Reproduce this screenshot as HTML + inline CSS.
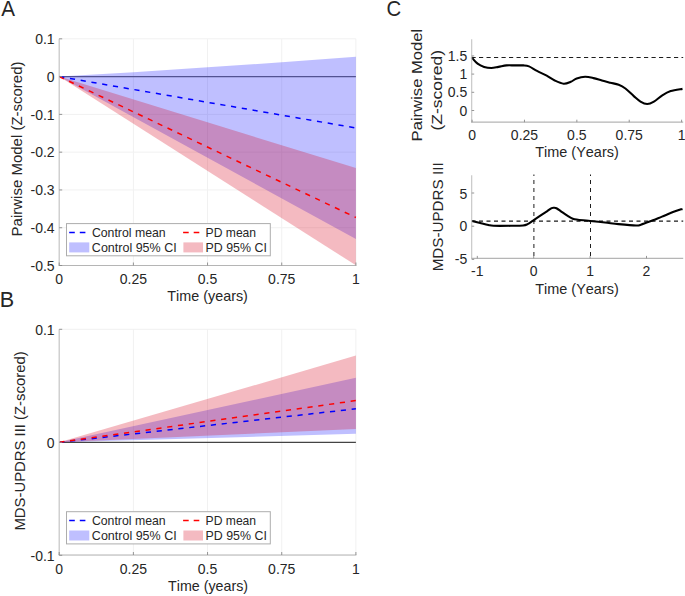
<!DOCTYPE html>
<html><head><meta charset="utf-8"><style>
html,body{margin:0;padding:0;background:#fff;width:685px;height:596px;overflow:hidden}
text{font-family:"Liberation Sans", sans-serif;font-kerning:none}
</style></head><body>
<svg width="685" height="596" viewBox="0 0 685 596" style="display:block">
<rect width="685" height="596" fill="#fff"/>
<line x1="133.38" y1="38.82" x2="133.38" y2="265.50" stroke="#f1f1f1" stroke-width="1.0"/>
<line x1="207.55" y1="38.82" x2="207.55" y2="265.50" stroke="#f1f1f1" stroke-width="1.0"/>
<line x1="281.72" y1="38.82" x2="281.72" y2="265.50" stroke="#f1f1f1" stroke-width="1.0"/>
<line x1="355.90" y1="38.82" x2="355.90" y2="265.50" stroke="#f1f1f1" stroke-width="1.0"/>
<line x1="59.20" y1="38.82" x2="355.90" y2="38.82" stroke="#f1f1f1" stroke-width="1.0"/>
<line x1="59.20" y1="114.38" x2="355.90" y2="114.38" stroke="#f1f1f1" stroke-width="1.0"/>
<line x1="59.20" y1="152.16" x2="355.90" y2="152.16" stroke="#f1f1f1" stroke-width="1.0"/>
<line x1="59.20" y1="189.94" x2="355.90" y2="189.94" stroke="#f1f1f1" stroke-width="1.0"/>
<line x1="59.20" y1="227.72" x2="355.90" y2="227.72" stroke="#f1f1f1" stroke-width="1.0"/>
<line x1="59.20" y1="76.55" x2="355.90" y2="76.55" stroke="#6e6e6e" stroke-width="1.25"/>
<polygon points="59.20,76.60 133.38,72.14 207.55,67.34 281.72,62.24 355.90,56.77 355.90,239.05" fill="#0000ff" fill-opacity="0.25"/>
<polygon points="59.20,76.60 355.90,168.03 355.90,265.31" fill="#d70019" fill-opacity="0.27"/>
<line x1="59.20" y1="76.60" x2="355.90" y2="127.98" stroke="#0000ff" stroke-width="1.5" stroke-dasharray="5.2 5.7"/>
<line x1="59.20" y1="76.60" x2="355.90" y2="217.52" stroke="#ff0000" stroke-width="1.5" stroke-dasharray="5.2 5.7"/>
<line x1="59.20" y1="38.82" x2="59.20" y2="265.50" stroke="#c4c4c4" stroke-width="1.2"/>
<line x1="58.60" y1="265.50" x2="356.40" y2="265.50" stroke="#b5b5b5" stroke-width="1.2"/>
<line x1="59.20" y1="265.50" x2="59.20" y2="262.50" stroke="#8a8a8a" stroke-width="0.9"/>
<line x1="133.38" y1="265.50" x2="133.38" y2="262.50" stroke="#8a8a8a" stroke-width="0.9"/>
<line x1="207.55" y1="265.50" x2="207.55" y2="262.50" stroke="#8a8a8a" stroke-width="0.9"/>
<line x1="281.72" y1="265.50" x2="281.72" y2="262.50" stroke="#8a8a8a" stroke-width="0.9"/>
<line x1="355.90" y1="265.50" x2="355.90" y2="262.50" stroke="#8a8a8a" stroke-width="0.9"/>
<line x1="59.20" y1="38.82" x2="62.20" y2="38.82" stroke="#8a8a8a" stroke-width="0.9"/>
<line x1="59.20" y1="76.60" x2="62.20" y2="76.60" stroke="#8a8a8a" stroke-width="0.9"/>
<line x1="59.20" y1="114.38" x2="62.20" y2="114.38" stroke="#8a8a8a" stroke-width="0.9"/>
<line x1="59.20" y1="152.16" x2="62.20" y2="152.16" stroke="#8a8a8a" stroke-width="0.9"/>
<line x1="59.20" y1="189.94" x2="62.20" y2="189.94" stroke="#8a8a8a" stroke-width="0.9"/>
<line x1="59.20" y1="227.72" x2="62.20" y2="227.72" stroke="#8a8a8a" stroke-width="0.9"/>
<line x1="59.20" y1="265.50" x2="62.20" y2="265.50" stroke="#8a8a8a" stroke-width="0.9"/>
<text x="54.60" y="44.12" font-size="14.0" text-anchor="end" textLength="19.46" lengthAdjust="spacingAndGlyphs" fill="#262626">0.1</text>
<text x="54.60" y="81.90" font-size="14.0" text-anchor="end" textLength="7.79" lengthAdjust="spacingAndGlyphs" fill="#262626">0</text>
<text x="54.60" y="119.68" font-size="14.0" text-anchor="end" textLength="24.12" lengthAdjust="spacingAndGlyphs" fill="#262626">-0.1</text>
<text x="54.60" y="157.46" font-size="14.0" text-anchor="end" textLength="24.12" lengthAdjust="spacingAndGlyphs" fill="#262626">-0.2</text>
<text x="54.60" y="195.24" font-size="14.0" text-anchor="end" textLength="24.12" lengthAdjust="spacingAndGlyphs" fill="#262626">-0.3</text>
<text x="54.60" y="233.02" font-size="14.0" text-anchor="end" textLength="24.12" lengthAdjust="spacingAndGlyphs" fill="#262626">-0.4</text>
<text x="54.60" y="270.80" font-size="14.0" text-anchor="end" textLength="24.12" lengthAdjust="spacingAndGlyphs" fill="#262626">-0.5</text>
<text x="59.20" y="283.60" font-size="14.0" text-anchor="middle" textLength="7.79" lengthAdjust="spacingAndGlyphs" fill="#262626">0</text>
<text x="133.38" y="283.60" font-size="14.0" text-anchor="middle" textLength="27.25" lengthAdjust="spacingAndGlyphs" fill="#262626">0.25</text>
<text x="207.55" y="283.60" font-size="14.0" text-anchor="middle" textLength="19.46" lengthAdjust="spacingAndGlyphs" fill="#262626">0.5</text>
<text x="281.72" y="283.60" font-size="14.0" text-anchor="middle" textLength="27.25" lengthAdjust="spacingAndGlyphs" fill="#262626">0.75</text>
<text x="355.90" y="283.60" font-size="14.0" text-anchor="middle" textLength="7.79" lengthAdjust="spacingAndGlyphs" fill="#262626">1</text>
<text x="167.28" y="300.80" font-size="14.6" textLength="80.61" lengthAdjust="spacingAndGlyphs" fill="#262626">Time (years)</text>
<text transform="translate(21.80 236.43) rotate(-90)" x="0" y="0" font-size="14.6" textLength="174.96" lengthAdjust="spacingAndGlyphs" fill="#262626">Pairwise Model (Z-scored)</text>
<text x="1.36" y="16.40" font-size="21.6" textLength="13.78" lengthAdjust="spacingAndGlyphs" fill="#262626">A</text>
<rect x="66.5" y="223.60" width="203.8" height="32.2" fill="#fff" stroke="#adadad" stroke-width="1"/>
<line x1="69.2" y1="232.40" x2="85.5" y2="232.40" stroke="#0000ff" stroke-width="1.5" stroke-dasharray="5.6 5"/>
<rect x="69.2" y="242.40" width="20.1" height="10.0" fill="#bfbfff"/>
<text x="91.88" y="237.00" font-size="12.4" textLength="73.82" lengthAdjust="spacingAndGlyphs" fill="#262626">Control mean</text>
<text x="91.87" y="251.80" font-size="12.4" textLength="84.79" lengthAdjust="spacingAndGlyphs" fill="#262626">Control 95% CI</text>
<line x1="183.1" y1="232.40" x2="199.4" y2="232.40" stroke="#ff0000" stroke-width="1.5" stroke-dasharray="5.6 5"/>
<rect x="183.4" y="242.40" width="19.6" height="10.0" fill="#f4bac1"/>
<text x="205.61" y="237.00" font-size="12.4" textLength="50.48" lengthAdjust="spacingAndGlyphs" fill="#262626">PD mean</text>
<text x="205.58" y="251.80" font-size="12.4" textLength="61.26" lengthAdjust="spacingAndGlyphs" fill="#262626">PD 95% CI</text>
<line x1="133.38" y1="329.30" x2="133.38" y2="555.00" stroke="#f1f1f1" stroke-width="1.0"/>
<line x1="207.55" y1="329.30" x2="207.55" y2="555.00" stroke="#f1f1f1" stroke-width="1.0"/>
<line x1="281.72" y1="329.30" x2="281.72" y2="555.00" stroke="#f1f1f1" stroke-width="1.0"/>
<line x1="355.90" y1="329.30" x2="355.90" y2="555.00" stroke="#f1f1f1" stroke-width="1.0"/>
<line x1="59.20" y1="329.30" x2="355.90" y2="329.30" stroke="#f1f1f1" stroke-width="1.0"/>
<line x1="59.20" y1="555.30" x2="355.90" y2="555.30" stroke="#f1f1f1" stroke-width="1.0"/>
<line x1="59.20" y1="442.4" x2="355.90" y2="442.4" stroke="#444" stroke-width="1.2"/>
<polygon points="59.20,442.30 355.90,377.70 355.90,433.80" fill="#0000ff" fill-opacity="0.25"/>
<polygon points="59.20,442.30 355.90,355.60 355.90,428.90" fill="#d70019" fill-opacity="0.27"/>
<line x1="59.20" y1="442.30" x2="355.90" y2="408.8" stroke="#0000ff" stroke-width="1.5" stroke-dasharray="5.2 5.7"/>
<line x1="59.20" y1="442.30" x2="355.90" y2="400.6" stroke="#ff0000" stroke-width="1.5" stroke-dasharray="5.2 5.7"/>
<line x1="59.20" y1="329.30" x2="59.20" y2="555.00" stroke="#c4c4c4" stroke-width="1.2"/>
<line x1="58.60" y1="555.00" x2="356.40" y2="555.00" stroke="#b5b5b5" stroke-width="1.2"/>
<line x1="59.20" y1="555.00" x2="59.20" y2="552.00" stroke="#8a8a8a" stroke-width="0.9"/>
<line x1="133.38" y1="555.00" x2="133.38" y2="552.00" stroke="#8a8a8a" stroke-width="0.9"/>
<line x1="207.55" y1="555.00" x2="207.55" y2="552.00" stroke="#8a8a8a" stroke-width="0.9"/>
<line x1="281.72" y1="555.00" x2="281.72" y2="552.00" stroke="#8a8a8a" stroke-width="0.9"/>
<line x1="355.90" y1="555.00" x2="355.90" y2="552.00" stroke="#8a8a8a" stroke-width="0.9"/>
<line x1="59.20" y1="329.30" x2="62.20" y2="329.30" stroke="#8a8a8a" stroke-width="0.9"/>
<line x1="59.20" y1="442.30" x2="62.20" y2="442.30" stroke="#8a8a8a" stroke-width="0.9"/>
<line x1="59.20" y1="555.30" x2="62.20" y2="555.30" stroke="#8a8a8a" stroke-width="0.9"/>
<text x="54.60" y="334.60" font-size="14.0" text-anchor="end" textLength="19.46" lengthAdjust="spacingAndGlyphs" fill="#262626">0.1</text>
<text x="54.60" y="447.60" font-size="14.0" text-anchor="end" textLength="7.79" lengthAdjust="spacingAndGlyphs" fill="#262626">0</text>
<text x="54.60" y="560.60" font-size="14.0" text-anchor="end" textLength="24.12" lengthAdjust="spacingAndGlyphs" fill="#262626">-0.1</text>
<text x="59.20" y="573.80" font-size="14.0" text-anchor="middle" textLength="7.79" lengthAdjust="spacingAndGlyphs" fill="#262626">0</text>
<text x="133.38" y="573.80" font-size="14.0" text-anchor="middle" textLength="27.25" lengthAdjust="spacingAndGlyphs" fill="#262626">0.25</text>
<text x="207.55" y="573.80" font-size="14.0" text-anchor="middle" textLength="19.46" lengthAdjust="spacingAndGlyphs" fill="#262626">0.5</text>
<text x="281.72" y="573.80" font-size="14.0" text-anchor="middle" textLength="27.25" lengthAdjust="spacingAndGlyphs" fill="#262626">0.75</text>
<text x="355.90" y="573.80" font-size="14.0" text-anchor="middle" textLength="7.79" lengthAdjust="spacingAndGlyphs" fill="#262626">1</text>
<text x="168.08" y="591.10" font-size="14.6" textLength="80.00" lengthAdjust="spacingAndGlyphs" fill="#262626">Time (years)</text>
<text transform="translate(24.50 530.52) rotate(-90)" x="0" y="0" font-size="14.6" textLength="179.14" lengthAdjust="spacingAndGlyphs" fill="#262626">MDS-UPDRS III (Z-scored)</text>
<text x="-0.37" y="307.40" font-size="21.6" textLength="14.41" lengthAdjust="spacingAndGlyphs" fill="#262626">B</text>
<rect x="66.5" y="511.70" width="203.8" height="32.2" fill="#fff" stroke="#adadad" stroke-width="1"/>
<line x1="69.2" y1="520.50" x2="85.5" y2="520.50" stroke="#0000ff" stroke-width="1.5" stroke-dasharray="5.6 5"/>
<rect x="69.2" y="530.50" width="20.1" height="10.0" fill="#bfbfff"/>
<text x="91.88" y="525.10" font-size="12.4" textLength="73.82" lengthAdjust="spacingAndGlyphs" fill="#262626">Control mean</text>
<text x="91.87" y="539.90" font-size="12.4" textLength="84.79" lengthAdjust="spacingAndGlyphs" fill="#262626">Control 95% CI</text>
<line x1="183.1" y1="520.50" x2="199.4" y2="520.50" stroke="#ff0000" stroke-width="1.5" stroke-dasharray="5.6 5"/>
<rect x="183.4" y="530.50" width="19.6" height="10.0" fill="#f4bac1"/>
<text x="205.61" y="525.10" font-size="12.4" textLength="50.48" lengthAdjust="spacingAndGlyphs" fill="#262626">PD mean</text>
<text x="205.58" y="539.90" font-size="12.4" textLength="61.26" lengthAdjust="spacingAndGlyphs" fill="#262626">PD 95% CI</text>
<line x1="471.5" y1="57.5" x2="683.2" y2="57.5" stroke="#1e1e1e" stroke-width="1" stroke-dasharray="4.2 3.3"/>
<path d="M471.50 57.20 C472.52 58.28 475.50 62.08 477.60 63.70 C479.70 65.32 481.82 66.18 484.10 66.90 C486.38 67.62 488.90 68.00 491.30 68.00 C493.70 68.00 495.97 67.33 498.50 66.90 C501.03 66.47 503.82 65.65 506.50 65.40 C509.18 65.15 511.78 65.40 514.60 65.40 C517.42 65.40 521.00 65.23 523.40 65.40 C525.80 65.57 526.73 65.48 529.00 66.40 C531.27 67.32 534.05 69.35 537.00 70.90 C539.95 72.45 543.75 74.10 546.70 75.70 C549.65 77.30 551.88 79.17 554.70 80.50 C557.52 81.83 560.92 83.48 563.60 83.70 C566.28 83.92 568.62 82.67 570.80 81.80 C572.98 80.93 574.32 79.33 576.70 78.50 C579.08 77.67 582.30 76.87 585.10 76.80 C587.90 76.73 590.70 77.48 593.50 78.10 C596.30 78.72 599.10 79.73 601.90 80.50 C604.70 81.27 607.50 81.98 610.30 82.70 C613.10 83.42 616.18 83.83 618.70 84.80 C621.22 85.77 622.88 86.62 625.40 88.50 C627.92 90.38 631.28 93.92 633.80 96.10 C636.32 98.28 638.27 100.28 640.50 101.60 C642.73 102.92 644.97 104.00 647.20 104.00 C649.43 104.00 651.38 103.05 653.90 101.60 C656.42 100.15 659.50 97.05 662.30 95.30 C665.10 93.55 667.33 92.17 670.70 91.10 C674.07 90.03 680.53 89.27 682.50 88.90" fill="none" stroke="#000" stroke-width="2.1" stroke-linejoin="round"/>
<line x1="471.7" y1="39.2" x2="471.7" y2="122.2" stroke="#c4c4c4" stroke-width="1.1"/>
<line x1="471.1" y1="122.2" x2="683.2" y2="122.2" stroke="#b5b5b5" stroke-width="1.2"/>
<line x1="471.7" y1="110.50" x2="474.2" y2="110.50" stroke="#8a8a8a" stroke-width="0.9"/>
<text x="467.20" y="116.00" font-size="14.0" text-anchor="end" textLength="7.79" lengthAdjust="spacingAndGlyphs" fill="#262626">0</text>
<line x1="471.7" y1="92.30" x2="474.2" y2="92.30" stroke="#8a8a8a" stroke-width="0.9"/>
<text x="467.20" y="97.00" font-size="14.0" text-anchor="end" textLength="19.46" lengthAdjust="spacingAndGlyphs" fill="#262626">0.5</text>
<line x1="471.7" y1="74.10" x2="474.2" y2="74.10" stroke="#8a8a8a" stroke-width="0.9"/>
<text x="467.20" y="79.00" font-size="14.0" text-anchor="end" textLength="7.79" lengthAdjust="spacingAndGlyphs" fill="#262626">1</text>
<line x1="471.7" y1="55.90" x2="474.2" y2="55.90" stroke="#8a8a8a" stroke-width="0.9"/>
<text x="467.20" y="61.00" font-size="14.0" text-anchor="end" textLength="19.46" lengthAdjust="spacingAndGlyphs" fill="#262626">1.5</text>
<line x1="472.10" y1="122.2" x2="472.10" y2="119.7" stroke="#8a8a8a" stroke-width="0.9"/>
<text x="472.10" y="139.80" font-size="14.0" text-anchor="middle" textLength="7.79" lengthAdjust="spacingAndGlyphs" fill="#262626">0</text>
<line x1="524.48" y1="122.2" x2="524.48" y2="119.7" stroke="#8a8a8a" stroke-width="0.9"/>
<text x="524.48" y="139.80" font-size="14.0" text-anchor="middle" textLength="27.25" lengthAdjust="spacingAndGlyphs" fill="#262626">0.25</text>
<line x1="576.85" y1="122.2" x2="576.85" y2="119.7" stroke="#8a8a8a" stroke-width="0.9"/>
<text x="576.85" y="139.80" font-size="14.0" text-anchor="middle" textLength="19.46" lengthAdjust="spacingAndGlyphs" fill="#262626">0.5</text>
<line x1="629.23" y1="122.2" x2="629.23" y2="119.7" stroke="#8a8a8a" stroke-width="0.9"/>
<text x="629.23" y="139.80" font-size="14.0" text-anchor="middle" textLength="27.25" lengthAdjust="spacingAndGlyphs" fill="#262626">0.75</text>
<line x1="681.60" y1="122.2" x2="681.60" y2="119.7" stroke="#8a8a8a" stroke-width="0.9"/>
<text x="681.60" y="139.80" font-size="14.0" text-anchor="middle" textLength="7.79" lengthAdjust="spacingAndGlyphs" fill="#262626">1</text>
<text x="535.17" y="157.40" font-size="14.6" textLength="83.62" lengthAdjust="spacingAndGlyphs" fill="#262626">Time (Years)</text>
<text transform="translate(421.90 141.46) rotate(-90)" x="0" y="0" font-size="14.6" textLength="112.78" lengthAdjust="spacingAndGlyphs" fill="#262626">Pairwise Model</text>
<text transform="translate(441.50 130.58) rotate(-90)" x="0" y="0" font-size="14.6" textLength="80.67" lengthAdjust="spacingAndGlyphs" fill="#262626">(Z-scored)</text>
<text x="386.57" y="16.40" font-size="21.6" textLength="14.71" lengthAdjust="spacingAndGlyphs" fill="#262626">C</text>
<line x1="471.5" y1="221.15" x2="683.2" y2="221.15" stroke="#1a1a1a" stroke-width="1.35" stroke-dasharray="4 3.5"/>
<line x1="533.9" y1="174.5" x2="533.9" y2="258.4" stroke="#1e1e1e" stroke-width="1" stroke-dasharray="1.5 4 4 4 4 4 4 4 4 4 4 4 4 4 4 4 4 4 4 4 4 4 4 4 4 4"/>
<line x1="590.5" y1="174.5" x2="590.5" y2="258.4" stroke="#1e1e1e" stroke-width="1" stroke-dasharray="1.5 4 4 4 4 4 4 4 4 4 4 4 4 4 4 4 4 4 4 4 4 4 4 4 4 4"/>
<path d="M472.00 220.90 C473.37 221.25 477.47 222.32 480.20 223.00 C482.93 223.68 486.18 224.53 488.40 225.00 C490.62 225.47 489.75 225.67 493.50 225.80 C497.25 225.93 505.97 225.85 510.90 225.80 C515.83 225.75 520.32 225.78 523.10 225.50 C525.88 225.22 525.88 224.97 527.60 224.10 C529.32 223.23 531.15 221.78 533.40 220.30 C535.65 218.82 538.78 216.73 541.10 215.20 C543.42 213.67 545.53 212.28 547.30 211.10 C549.07 209.92 550.60 208.67 551.70 208.10 C552.80 207.53 553.10 207.68 553.90 207.70 C554.70 207.72 555.22 207.52 556.50 208.20 C557.78 208.88 559.73 210.52 561.60 211.80 C563.47 213.08 565.83 214.75 567.70 215.90 C569.57 217.05 571.10 218.07 572.80 218.70 C574.50 219.33 575.00 219.32 577.90 219.70 C580.80 220.08 585.68 220.53 590.20 221.00 C594.72 221.47 600.27 221.98 605.00 222.50 C609.73 223.02 613.43 223.60 618.60 224.10 C623.77 224.60 632.28 225.40 636.00 225.50 C639.72 225.60 638.63 225.35 640.90 224.70 C643.17 224.05 646.08 222.95 649.60 221.60 C653.12 220.25 657.87 218.27 662.00 216.60 C666.13 214.93 670.98 212.88 674.40 211.60 C677.82 210.32 681.15 209.35 682.50 208.90" fill="none" stroke="#000" stroke-width="2.1" stroke-linejoin="round"/>
<line x1="471.7" y1="175.3" x2="471.7" y2="258.4" stroke="#c4c4c4" stroke-width="1.1"/>
<line x1="471.3" y1="258.4" x2="683.2" y2="258.4" stroke="#b5b5b5" stroke-width="1.2"/>
<line x1="471.7" y1="259.40" x2="474.2" y2="259.40" stroke="#8a8a8a" stroke-width="0.9"/>
<text x="467.20" y="264.00" font-size="14.0" text-anchor="end" textLength="12.45" lengthAdjust="spacingAndGlyphs" fill="#262626">-5</text>
<line x1="471.7" y1="226.20" x2="474.2" y2="226.20" stroke="#8a8a8a" stroke-width="0.9"/>
<text x="467.20" y="231.00" font-size="14.0" text-anchor="end" textLength="7.79" lengthAdjust="spacingAndGlyphs" fill="#262626">0</text>
<line x1="471.7" y1="193.00" x2="474.2" y2="193.00" stroke="#8a8a8a" stroke-width="0.9"/>
<text x="467.20" y="199.00" font-size="14.0" text-anchor="end" textLength="7.79" lengthAdjust="spacingAndGlyphs" fill="#262626">5</text>
<line x1="477.30" y1="258.4" x2="477.30" y2="255.89999999999998" stroke="#8a8a8a" stroke-width="0.9"/>
<text x="477.30" y="276.40" font-size="14.0" text-anchor="middle" textLength="12.45" lengthAdjust="spacingAndGlyphs" fill="#262626">-1</text>
<line x1="533.70" y1="258.4" x2="533.70" y2="255.89999999999998" stroke="#8a8a8a" stroke-width="0.9"/>
<text x="533.70" y="276.40" font-size="14.0" text-anchor="middle" textLength="7.79" lengthAdjust="spacingAndGlyphs" fill="#262626">0</text>
<line x1="590.10" y1="258.4" x2="590.10" y2="255.89999999999998" stroke="#8a8a8a" stroke-width="0.9"/>
<text x="590.10" y="276.40" font-size="14.0" text-anchor="middle" textLength="7.79" lengthAdjust="spacingAndGlyphs" fill="#262626">1</text>
<line x1="646.50" y1="258.4" x2="646.50" y2="255.89999999999998" stroke="#8a8a8a" stroke-width="0.9"/>
<text x="646.50" y="276.40" font-size="14.0" text-anchor="middle" textLength="7.79" lengthAdjust="spacingAndGlyphs" fill="#262626">2</text>
<text x="535.17" y="293.80" font-size="14.6" textLength="83.62" lengthAdjust="spacingAndGlyphs" fill="#262626">Time (Years)</text>
<text transform="translate(443.40 271.35) rotate(-90)" x="0" y="0" font-size="14.6" textLength="108.95" lengthAdjust="spacingAndGlyphs" fill="#262626">MDS-UPDRS III</text>
</svg>
</body></html>
